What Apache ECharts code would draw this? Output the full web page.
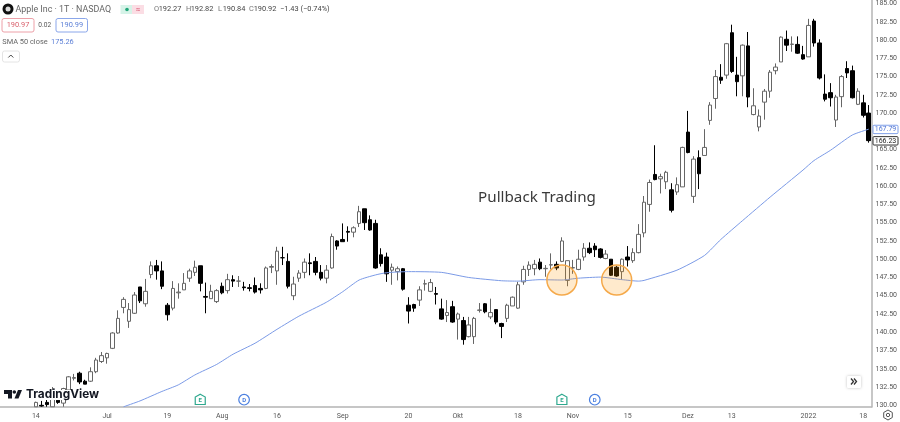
<!DOCTYPE html>
<html>
<head>
<meta charset="utf-8">
<title>Apple Pullback Trading</title>
<script src="https://cdn.jsdelivr.net/npm/echarts@6/dist/echarts.min.js"></script>
<style>
html,body{margin:0;padding:0;background:#fff;}
#chart{width:900px;height:422px;}
</style>
</head>
<body>
<div id="chart"></div>
<script>
// trading days shown on the chart
var dates = [
 '06-14','06-15','06-16','06-17','06-18','06-21','06-22','06-23','06-24','06-25','06-28','06-29','06-30',
 '07-01','07-02','07-06','07-07','07-08','07-09','07-12','07-13','07-14','07-15','07-16','07-19','07-20','07-21','07-22','07-23','07-26','07-27','07-28','07-29','07-30',
 '08-02','08-03','08-04','08-05','08-06','08-09','08-10','08-11','08-12','08-13','08-16','08-17','08-18','08-19','08-20','08-23','08-24','08-25','08-26','08-27','08-30','08-31',
 '09-01','09-02','09-03','09-07','09-08','09-09','09-10','09-13','09-14','09-15','09-16','09-17','09-20','09-21','09-22','09-23','09-24','09-27','09-28','09-29','09-30',
 '10-01','10-04','10-05','10-06','10-07','10-08','10-11','10-12','10-13','10-14','10-15','10-18','10-19','10-20','10-21','10-22','10-25','10-26','10-27','10-28','10-29',
 '11-01','11-02','11-03','11-04','11-05','11-08','11-09','11-10','11-11','11-12','11-15','11-16','11-17','11-18','11-19','11-22','11-23','11-24','11-26','11-29','11-30',
 '12-01','12-02','12-03','12-06','12-07','12-08','12-09','12-10','12-13','12-14','12-15','12-16','12-17','12-20','12-21','12-22','12-23','12-27','12-28','12-29','12-30','12-31',
 '01-03','01-04','01-05','01-06','01-07','01-10','01-11','01-12','01-13','01-14','01-18','01-19'
];
var leadingBlanks = ['b0','b1','b2','b3','b4','b5'];

// the first candles run under the time scale, so they stop at its edge (129.8)
var opens = [
 129.8,130.0,130.4,129.8,130.7,130.3,132.1,133.7,134.4,133.3,
 133.3,134.6,136.0,136.5,137.8,139.9,143.4,141.5,142.6,146.2,
 143.9,147.9,149.1,148.4,143.7,143.3,145.4,145.8,147.4,148.2,
 149.1,144.9,144.6,144.2,146.3,145.7,147.2,147.0,146.2,146.1,
 146.4,146.0,146.0,148.9,148.4,150.2,149.7,145.0,147.4,148.2,
 149.5,149.7,148.2,147.4,148.8,152.5,152.7,153.8,153.7,154.9,
 156.9,155.4,154.9,150.6,150.3,148.5,148.3,148.7,143.7,143.8,
 144.4,146.6,145.6,145.3,143.2,142.3,143.5,141.8,141.6,139.4,
 139.4,143.0,143.9,142.1,143.1,141.2,141.9,143.6,143.3,146.9,
 148.6,148.7,149.6,148.7,149.2,149.3,149.7,147.1,148.8,148.6,
 150.3,151.5,151.8,151.4,150.1,150.0,148.9,148.3,150.3,149.8,
 150.9,153.6,157.5,161.6,161.0,160.6,159.5,159.2,159.9,167.4,
 158.6,163.9,164.2,169.0,172.0,174.9,175.2,181.0,175.2,175.1,
 179.2,169.8,168.1,171.5,173.0,175.8,177.0,180.1,179.4,179.4,
 178.0,177.7,182.6,179.6,172.6,172.8,169.05,172.25,176.1,175.8,
 171.2,171.4,170.0
];
var closes = [
 130.4,129.9,130.1,131.8,130.4,132.3,133.9,133.8,133.2,132.9,
 134.6,136.2,136.8,137.1,139.9,141.9,144.5,143.1,145.1,144.3,
 145.6,149.1,148.4,146.3,142.4,146.0,145.5,146.7,148.4,148.9,
 146.7,144.8,145.6,145.7,145.4,147.2,147.0,147.0,146.1,146.0,
 145.5,145.8,148.8,149.0,151.1,150.2,146.3,146.6,148.1,149.6,
 149.4,148.2,147.4,148.5,153.1,151.8,152.4,153.7,154.3,156.5,
 155.0,154.0,148.8,149.4,148.0,148.9,148.7,145.9,142.9,143.3,
 145.8,146.65,146.8,145.2,141.8,142.7,141.4,142.5,139.0,141.0,
 141.9,143.05,142.8,142.7,141.4,140.8,143.7,144.8,146.5,148.6,
 149.2,149.3,148.7,148.75,149.25,148.8,152.5,149.8,148.85,150.0,
 151.5,150.9,151.3,150.25,150.7,147.8,147.7,150.0,149.9,150.9,
 153.4,157.8,160.5,160.9,161.3,161.9,156.7,160.2,165.3,164.6,
 163.7,161.7,165.3,171.1,175.0,174.5,179.5,175.7,174.3,179.3,
 172.2,171.0,169.6,173.0,175.6,176.3,180.4,179.3,179.45,178.2,
 177.4,182.0,179.6,174.8,171.9,172.1,172.2,175.0,175.5,172.1,
 173.0,169.7,166.23
];
var lows = [
 129.8,129.8,129.8,129.8,130.2,129.8,131.9,133.4,132.9,132.9,
 133.2,134.4,135.8,135.7,137.7,139.8,142.6,140.6,142.5,144.0,
 143.5,147.4,147.2,145.9,141.6,143.0,144.6,145.8,146.9,147.7,
 145.6,142.6,144.6,144.0,145.2,145.3,146.2,146.2,145.7,145.6,
 145.3,145.3,145.9,148.1,146.5,149.2,146.0,144.4,146.9,147.4,
 147.8,147.8,147.1,146.7,148.7,151.3,152.4,152.4,153.0,154.4,
 154.0,153.9,148.7,149.0,146.9,146.5,147.1,145.7,141.2,142.8,
 143.6,145.7,145.5,143.8,141.7,141.4,141.3,139.0,138.3,139.3,
 138.4,142.7,142.6,141.8,141.1,139.2,141.4,143.6,143.2,146.5,
 147.7,147.8,148.5,147.6,148.6,148.5,149.6,146.3,148.0,148.5,
 149.8,150.7,150.3,150.1,150.0,147.7,147.6,147.2,149.0,149.5,
 150.8,153.0,156.5,160.8,159.0,159.6,156.4,158.8,159.9,164.5,
 157.7,159.6,164.2,168.4,170.6,174.0,174.7,175.5,172.3,172.3,
 170.8,169.7,167.5,169.1,172.1,175.3,177.0,178.5,178.4,178.1,
 177.3,177.7,179.1,174.6,171.6,170.9,168.1,170.8,174.8,172.0,
 171.1,169.4,165.95
];
var highs = [
 130.5,130.6,130.9,132.5,131.5,132.4,134.0,134.3,134.6,133.5,
 135.2,136.5,137.3,137.2,140.0,143.0,144.8,144.0,145.5,146.2,
 147.3,149.7,149.9,149.7,144.0,147.0,146.7,148.1,148.7,149.8,
 149.1,146.8,146.5,145.9,146.8,148.0,147.8,147.7,146.9,146.6,
 147.5,146.7,149.0,149.3,151.7,151.7,150.8,147.6,148.5,150.1,
 150.8,150.3,149.2,149.2,153.5,152.6,154.9,154.5,154.5,157.3,
 156.9,156.0,155.4,151.5,150.9,149.4,149.0,148.8,144.8,143.9,
 146.3,147.2,147.3,146.2,144.6,144.4,144.3,142.7,142.1,142.1,
 142.1,144.0,144.0,144.6,143.1,141.3,143.9,144.9,146.9,149.1,
 149.7,149.9,150.1,149.2,150.8,149.7,153.0,149.8,149.9,151.3,
 152.2,152.3,152.2,151.5,151.25,150.0,149.1,150.1,151.8,151.5,
 154.8,158.65,160.9,165.6,161.7,162.1,160.4,161.2,165.4,170.3,
 164.1,164.9,167.8,171.5,175.9,176.7,179.6,182.1,177.7,179.4,
 181.1,173.4,170.5,173.3,175.9,176.8,180.5,181.3,180.5,180.5,
 179.2,182.9,182.9,180.1,175.3,174.1,172.5,175.2,177.1,176.5,
 173.4,172.5,171.1
];

// SMA 50 read at these candles, joined by the line series
var smaIndex = [16,19,23,26,29,33,36,40,44,48,53,56,59,62,64,68,74,79,85,88,92,96,99,103,107,110,111,117,122,125,129,134,140,142,145,149,152];
var smaValues = [129.8,130.6,131.9,132.8,134.15,135.6,137.0,138.5,140.4,142.2,144.1,145.55,147.15,147.85,148.15,148.3,148.2,147.5,147.05,147.0,147.2,147.15,147.4,147.55,147.2,147.0,147.1,148.5,150.5,152.7,155.3,158.5,162.2,163.5,164.9,167.0,167.8];

var xTickDates = ['06-14','07-01','07-19','08-02','08-16','09-01','09-20','10-01','10-18','11-01','11-15','12-01','12-13','01-03','01-18'];
var xTickLabels = ['14','Jul','19','Aug','16','Sep','20','Okt','18','Nov','15','Dez','13','2022','18'];
var yTicks = [130,132.5,135,137.5,140,142.5,145,147.5,150,152.5,155,157.5,160,162.5,165,167.5,170,172.5,175,177.5,180,182.5,185];

var pullbackDates = ['10-28','11-11'];
var pullbackPrice = [147.15,147.15];
var earningsDates = ['07-27','10-28'];
var dividendDates = ['08-06','11-05'];
var smaLast = 167.79;
var closeLast = 166.23;

var FONT = 'Roboto';
var GREY = '#555';
var BLUE = '#5b7fd6';

var chart = echarts.init(document.getElementById('chart'));

var candleData = [];
leadingBlanks.forEach(function(){ candleData.push(['-','-','-','-']); });
for(var i=0;i<dates.length;i++){
    candleData.push([opens[i],closes[i],lows[i],highs[i]]);
}
var smaData = [];
for(var j=0;j<smaIndex.length;j++){
    smaData.push([dates[smaIndex[j]],smaValues[j]]);
}
var circleData = [];
for(var k=0;k<pullbackDates.length;k++){
    circleData.push([pullbackDates[k],pullbackPrice[k]]);
}

chart.setOption({
    animation:false,
    backgroundColor:'#fff',
    grid:{left:-1.75,top:0,width:874.5,height:407,containLabel:false},
    xAxis:{
        type:'category',
        data:leadingBlanks.concat(dates),
        boundaryGap:true,
        axisLine:{lineStyle:{color:'#b4b4b4',width:1.5}},
        axisTick:{show:false},
        splitLine:{show:false},
        axisLabel:{
            interval:0,
            margin:6,
            fontFamily:FONT,
            fontSize:7,
            color:GREY,
            hideOverlap:false,
            formatter:function(v){
                var p = xTickDates.indexOf(v);
                return p<0 ? '' : xTickLabels[p];
            }
        }
    },
    yAxis:{
        type:'value',
        position:'right',
        min:129.77,
        max:185.48,
        axisLine:{show:true,lineStyle:{color:'#b4b4b4',width:1.5}},
        axisTick:{show:false},
        splitLine:{show:false},
        axisLabel:{
            customValues:yTicks,
            margin:4,
            fontFamily:FONT,
            fontSize:7,
            color:GREY,
            formatter:function(v){ return v.toFixed(2); }
        }
    },
    series:[
        {
            type:'candlestick',
            data:candleData,
            barWidth:4,
            clip:true,
            itemStyle:{color:'#fff',color0:'#000',borderColor:'#666',borderColor0:'#000',borderWidth:1},
            z:2
        },
        {
            type:'line',
            data:smaData,
            showSymbol:false,
            symbol:'none',
            smooth:0.2,
            lineStyle:{color:'#7b9ae6',width:1},
            z:3
        },
        {
            type:'scatter',
            data:circleData,
            symbolSize:30,
            itemStyle:{color:'rgba(255,152,0,0.2)',borderColor:'#f5a94a',borderWidth:1.5,opacity:1},
            z:4
        }
    ]
});

function txt(x,y,s,size,color,align,weight,family){
    return {type:'text',z:70,silent:true,style:{x:x,y:y,text:s,fill:color,font:(weight||'normal')+' '+size+'px "'+(family||FONT)+'"',align:align||'left',verticalAlign:'middle'}};
}
function box(x,y,w,h,fill,stroke,r,z){
    return {type:'rect',z:z||65,silent:true,shape:{x:x,y:y,width:w,height:h,r:r||0},style:{fill:fill,stroke:stroke,lineWidth:stroke?1:0}};
}
function line(points,color,width,z){
    return {type:'polyline',z:z||70,silent:true,shape:{points:points},style:{fill:'none',stroke:color,lineWidth:width||1}};
}

var g = [];

// header
g.push({type:'circle',z:70,silent:true,shape:{cx:8,cy:9,r:5.5},style:{fill:'#111'}});
g.push({type:'circle',z:71,silent:true,shape:{cx:8,cy:9,r:2.5},style:{fill:'#ddd'}});
g.push(txt(15.5,9.5,'Apple Inc · 1T · NASDAQ',8.9,'#666'));
g.push(box(120.5,5,12,9,'#d6f3e8',null,0));
g.push(box(132,5,12,9,'#fbdde4',null,0));
g.push({type:'circle',z:70,silent:true,shape:{cx:127,cy:9.5,r:1.8},style:{fill:'#22a67a'}});
g.push(txt(138,9.5,'≈',8,'#d9607a','center'));
var ohlc = [[154,'O','192.27'],[186,'H','192.82'],[218,'L','190.84'],[249,'C','190.92']];
ohlc.forEach(function(r){
    g.push(txt(r[0],9.5,r[1],7.4,'#777'));
    g.push(txt(r[0]+4.7,9.5,r[2],7.4,'#444'));
});
g.push(txt(280,9.5,'−1.43 (−0.74%)',7.4,'#444'));
g.push(box(2,18.5,32,13.5,'#fff','#eda0a8',2));
g.push(txt(18,25.5,'190.97',7.4,'#d9606c','center'));
g.push(txt(44.7,25.5,'0.02',6.6,'#555','center'));
g.push(box(56,18.5,31.5,13.5,'#fff','#8aa6ea',2));
g.push(txt(71.7,25.5,'190.99',7.4,BLUE,'center'));
g.push(txt(2.3,42,'SMA 50 close',7.4,'#666'));
g.push(txt(51,42,'175.26',7.4,BLUE));
g.push(box(2.5,51,17,11,'#fff','#e4e4e4',2));
g.push(line([[8.3,57.5],[10.8,55],[13.3,57.5]],'#444',1));

// annotation
g.push(txt(537,198,'Pullback Trading',15.2,'#3a3a3a','center','normal','Noto Sans'));

// watermark with the white halo it has over the candles
g.push(box(3,390,95,10,'#fff',null,0,50));
g.push({type:'polygon',z:70,silent:true,shape:{points:[[4,390],[12,390],[12,398.5],[8,398.5],[8,394],[4,394]]},style:{fill:'#131722'}});
g.push({type:'circle',z:70,silent:true,shape:{cx:14.3,cy:392,r:1.8},style:{fill:'#131722'}});
g.push({type:'polygon',z:70,silent:true,shape:{points:[[18,390],[22,390],[18.5,398.5],[14.5,398.5]]},style:{fill:'#131722'}});
g.push(txt(26,394.5,'TradingView',11.8,'#131722','left','700','Inter'));

// earnings and dividend flags
earningsDates.forEach(function(d){
    var x = chart.convertToPixel({xAxisIndex:0},d);
    g.push({type:'polygon',z:70,silent:true,shape:{points:[[x,394.3],[x+5,397],[x+5,404.5],[x-5,404.5],[x-5,397]]},style:{fill:'#fff',stroke:'#2ea88e',lineWidth:1.2}});
    g.push(txt(x,400.2,'E',6,'#2ea88e','center','bold'));
});
dividendDates.forEach(function(d){
    var x = chart.convertToPixel({xAxisIndex:0},d);
    g.push({type:'circle',z:70,silent:true,shape:{cx:x,cy:399.7,r:5.3},style:{fill:'#fff',stroke:'#4a7fe0',lineWidth:1.2}});
    g.push(txt(x,400,'D',6,'#4a7fe0','center','bold'));
});

// hides the lower half of the 130.00 label under the time scale
g.push(box(873.5,408,27,14,'#fff',null,0,40));

// price tags on the scale
var ySma = chart.convertToPixel({yAxisIndex:0},smaLast);
var yClose = chart.convertToPixel({yAxisIndex:0},closeLast);
g.push(box(873,ySma-4,25,8.4,'#fff','#7f9fe8',1));
g.push(txt(885.5,ySma+0.4,smaLast.toFixed(2),7,'#4f74d4','center'));
g.push(box(873,yClose-4,25,8.4,'#fff','#333',1));
g.push(txt(885.5,yClose+0.4,closeLast.toFixed(2),7,'#222','center'));

// scroll button and settings
g.push({type:'rect',z:65,silent:true,shape:{x:847,y:376,width:14,height:12,r:1},style:{fill:'#fff',shadowBlur:3,shadowColor:'rgba(0,0,0,0.25)'}});
g.push(line([[851,378.5],[853.5,381.5],[851,384.5]],'#333',1.3));
g.push(line([[854,378.5],[856.5,381.5],[854,384.5]],'#333',1.3));
g.push({type:'polygon',z:70,silent:true,shape:{points:[[888,410],[892.3,412.5],[892.3,417.5],[888,420],[883.7,417.5],[883.7,412.5]]},style:{fill:'#fff',stroke:'#555',lineWidth:1}});
g.push({type:'circle',z:71,silent:true,shape:{cx:888,cy:415,r:1.7},style:{fill:'#fff',stroke:'#555',lineWidth:1}});

chart.setOption({graphic:{elements:g}});
</script>
</body>
</html>
